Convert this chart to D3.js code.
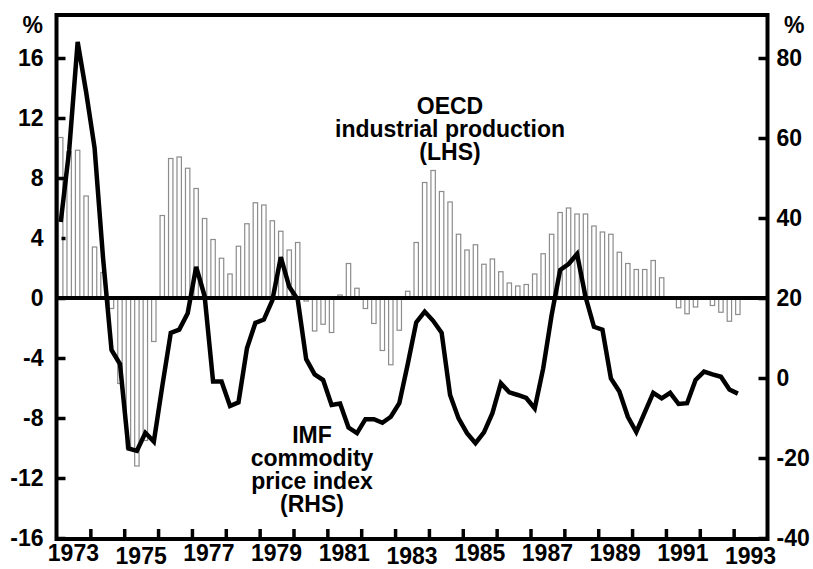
<!DOCTYPE html>
<html>
<head>
<meta charset="utf-8">
<script src="https://cdn.jsdelivr.net/npm/d3@7"></script>
<style>
body { margin: 0; background: #fff; }
text { font-family: "Liberation Sans", Arial, sans-serif; font-weight: bold; fill: #000; }
</style>
</head>
<body>
<svg id="chart" width="813" height="569"></svg>
<script>
/* global d3 */

/* DATA - quarterly, 1973 Q1 to 1993 Q1 */
var startYear = 1973;
var yearLabels = [1973, 1975, 1977, 1979, 1981, 1983, 1985, 1987, 1989, 1991, 1993];
var leftTicks = [16, 12, 8, 4, 0, -4, -8, -12, -16];
var rightTicks = [80, 60, 40, 20, 0, -20, -40];

// OECD industrial production, % (LHS)
var oecdProduction = [
    10.7, 9.75, 9.85, 6.8,
    3.4, 1.7, -0.7, -5.7,
    -10.0, -11.2, -9.5, -2.9,
    5.5, 9.3, 9.4, 8.65,
    7.3, 5.3, 3.9, 2.65,
    1.6, 3.45, 4.95, 6.35,
    6.2, 5.15, 4.45, 3.2,
    3.7, -0.2, -2.2, -1.75,
    -2.3, 0.2, 2.3, 0.65,
    -0.7, -1.7, -3.5, -4.45,
    -2.15, 0.45, 3.7, 7.7,
    8.5, 7.1, 6.4, 4.25,
    3.2, 3.55, 2.25, 2.6,
    1.75, 1.0, 0.8, 0.9,
    1.6, 2.95, 4.25, 5.7,
    6.0, 5.6, 5.6, 4.8,
    4.4, 4.25, 3.05, 2.3,
    1.9, 1.9, 2.5, 1.35,
    0, -0.65, -1.05, -0.6,
    0, -0.5, -0.95, -1.55,
    -1.1
];

// IMF commodity price index, % (RHS)
var imfCommodity = [
    39, 57, 84, 71.5,
    57.5, 30, 7, 3.5,
    -17.6, -18.2, -13.7, -15.9,
    -2, 11.3, 12.1, 16.2,
    27.8, 20.5, -0.9, -0.9,
    -7, -6.1, 7.4, 13.8,
    14.6, 19.4, 30.2, 22.8,
    19.6, 4.7, 0.9, -0.5,
    -6.75, -6.4, -12.4, -13.8,
    -10.3, -10.3, -11.2, -9.7,
    -6.3, 3.5, 13.9, 16.6,
    14.3, 11.3, -4.25, -10.1,
    -13.8, -16.3, -13.6, -8.8,
    -1.3, -3.6, -4.25, -5.0,
    -7.6, 2.4, 15.8, 27,
    28.5, 31, 20.3, 12.8,
    12.1, -0.1, -3.4, -9.7,
    -13.5, -8.6, -3.7, -5.1,
    -3.7, -6.5, -6.3, -0.5,
    1.6, 0.9, 0.3, -2.9,
    -3.9
];

var svg = d3.select('#chart');

var plotLeft = 56.5, plotRight = 767.5, plotTop = 15, plotBottom = 539;

var x = d3.scaleLinear()
    .domain([startYear, startYear + 21])
    .range([plotLeft, plotRight]);

var yLeft = d3.scaleLinear().domain([-16, 16]).range([538, 58]);
var yRight = d3.scaleLinear().domain([-40, 80]).range([538, 58]);

var quarterWidth = x(startYear + 0.25) - x(startYear);
function quarterDate(i) { return startYear + i / 4; }
function plainNumber(d) { return String(d); } // hyphen minus, like the original

/* bars */
svg.append('g')
    .attr('class', 'bars')
    .selectAll('rect')
    .data(oecdProduction)
    .enter().append('rect')
    .attr('x', function (d, i) { return x(quarterDate(i)) + 2; })
    .attr('width', quarterWidth * 0.52)
    .attr('y', function (d) { return d >= 0 ? yLeft(d) : yLeft(0); })
    .attr('height', function (d) { return Math.abs(yLeft(d) - yLeft(0)); })
    .style('fill', '#fff')
    .style('stroke', '#8c8c8c')
    .style('stroke-width', 1.2);

/* zero line */
svg.append('line')
    .attr('x1', plotLeft).attr('x2', plotRight)
    .attr('y1', yLeft(0)).attr('y2', yLeft(0))
    .style('stroke', '#000')
    .style('stroke-width', 4);

/* commodity price line */
var line = d3.line()
    .x(function (d, i) { return x(quarterDate(i) + 0.125); })
    .y(function (d) { return yRight(d); });

svg.append('path')
    .datum(imfCommodity)
    .attr('d', line)
    .style('fill', 'none')
    .style('stroke', '#000')
    .style('stroke-width', 4.5)
    .style('stroke-linejoin', 'miter')
    .style('stroke-miterlimit', 3);

/* axes */
var leftAxis = svg.append('g')
    .attr('transform', 'translate(' + plotLeft + ',0)')
    .call(d3.axisLeft(yLeft).tickValues(leftTicks).tickFormat(plainNumber)
        .tickSize(-9).tickSizeOuter(0).tickPadding(13));

leftAxis.selectAll('.tick').filter(function (d) { return d === 4; })
    .select('line').attr('x1', 5).attr('x2', 9);

var rightAxis = svg.append('g')
    .attr('transform', 'translate(' + plotRight + ',0)')
    .call(d3.axisRight(yRight).tickValues(rightTicks).tickFormat(plainNumber)
        .tickSize(-9).tickSizeOuter(0).tickPadding(9));

var bottomAxis = svg.append('g')
    .attr('transform', 'translate(0,' + plotBottom + ')')
    .call(d3.axisBottom(x).tickValues(d3.range(startYear + 1, startYear + 21))
        .tickSize(-10).tickSizeOuter(0).tickFormat(''));

[leftAxis, rightAxis, bottomAxis].forEach(function (g) {
    g.select('.domain').remove();
    g.selectAll('.tick line').style('stroke', '#000').style('stroke-width', 3.5);
    g.selectAll('.tick text').style('font-size', '23px').style('font-family', null);
});

/* frame */
svg.append('rect')
    .attr('x', plotLeft).attr('y', plotTop)
    .attr('width', plotRight - plotLeft)
    .attr('height', plotBottom - plotTop)
    .style('fill', 'none')
    .style('stroke', '#000')
    .style('stroke-width', 4);

/* year labels */
var loweredYears = [1975, 1983, 1993];
svg.append('g').selectAll('text')
    .data(yearLabels)
    .enter().append('text')
    .attr('x', function (d) { return x(d + 0.5); })
    .attr('y', function (d) { return loweredYears.indexOf(d) >= 0 ? 564 : 561; })
    .style('text-anchor', 'middle')
    .style('font-size', '23px')
    .text(function (d) { return d; });

/* unit labels */
svg.append('text').attr('x', 43).attr('y', 33).style('text-anchor', 'end').style('font-size', '23px').text('%');
svg.append('text').attr('x', 784).attr('y', 33).style('text-anchor', 'start').style('font-size', '23px').text('%');

/* annotations */
function annotate(lines, cx, firstBaseline) {
    var t = svg.append('text')
        .attr('x', cx)
        .attr('y', firstBaseline)
        .style('text-anchor', 'middle')
        .style('font-size', '23px');
    lines.forEach(function (s, i) {
        t.append('tspan').attr('x', cx).attr('dy', i === 0 ? 0 : 23).text(s);
    });
}

annotate(['OECD', 'industrial production', '(LHS)'], 450, 114);
annotate(['IMF', 'commodity', 'price index', '(RHS)'], 312, 443);
</script>
</body>
</html>
